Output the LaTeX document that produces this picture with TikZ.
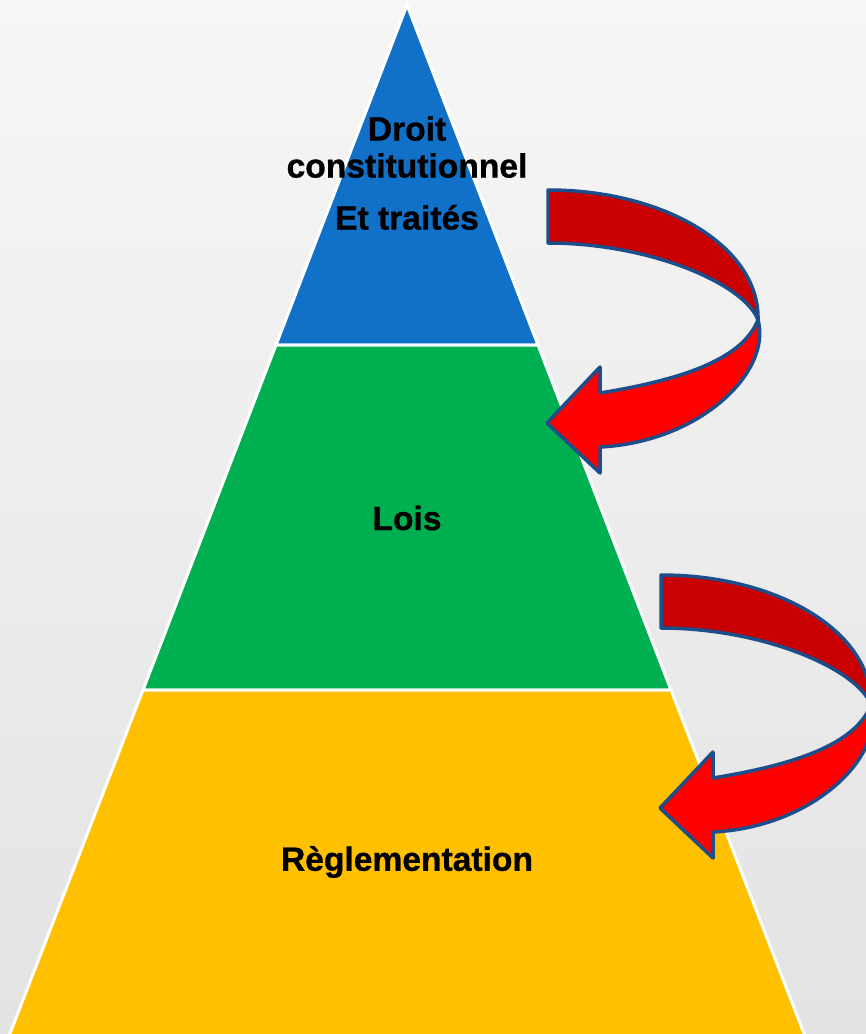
\documentclass[tikz,border=0pt]{standalone}
\usepackage{fontspec}
\setmainfont{Liberation Sans}
\newfontfamily\heavyfont{Liberation Sans Bold}[FakeBold=0.9]

\definecolor{pyrblue}{RGB}{17,112,200}
\definecolor{pyrgreen}{RGB}{0,176,80}
\definecolor{pyryellow}{RGB}{255,192,0}
\definecolor{backred}{RGB}{200,0,0}
\definecolor{frontred}{RGB}{255,0,0}
\definecolor{rimblue}{RGB}{28,78,140}

\tikzset{
  layer/.style={draw=white,line width=3pt,line join=miter},
  ribbon/.style={draw=rimblue,line width=3.5pt,line join=round},
  label/.style={font=\heavyfont\fontsize{33.6}{37}\selectfont,inner sep=0pt,align=center}
}

% the bent arrow, shifted from the upper one
\newcommand{\bentarrow}[1]{%
\begin{scope}[shift={#1}]
\filldraw[ribbon,fill=backred] (548,190) .. controls (665,190) and (760,247) .. (758,320)
  .. controls (745,284) and (650,243) .. (548,243) -- cycle;
\filldraw[ribbon,fill=frontred] (758,320) .. controls (772,372) and (700,442) .. (600,447)
  -- (600,473) -- (547,423) -- (600,367) -- (600,393)
  .. controls (680,380) and (742,360) .. (758,320) -- cycle;
\end{scope}}

\begin{document}
\begin{tikzpicture}[x=1pt,y=-1pt]
\useasboundingbox (0,0) rectangle (866,1034);
\clip (0,0) rectangle (866,1034);
\shade[top color=gray!7,bottom color=gray!22] (0,0) rectangle (866,1034);

% pyramid
\filldraw[layer,fill=pyrblue] (407,5) -- (538,345) -- (276,345) -- cycle;
\filldraw[layer,fill=pyrgreen] (276,345) -- (538,345) -- (671,690) -- (143,690) -- cycle;
\filldraw[layer,fill=pyryellow] (143,690) -- (671,690) -- (805,1036) -- (9,1036) -- cycle;

\node[label,anchor=north] (droit) at (407,116) {Droit\\constitutionnel\\[15pt]Et traités};
\node[label] (lois) at (407,518) {Lois};
\node[label] (regl) at (407,862) {Règlementation};

% arrows
\bentarrow{(0,0)}
\bentarrow{(113,385)}
\end{tikzpicture}
\end{document}
